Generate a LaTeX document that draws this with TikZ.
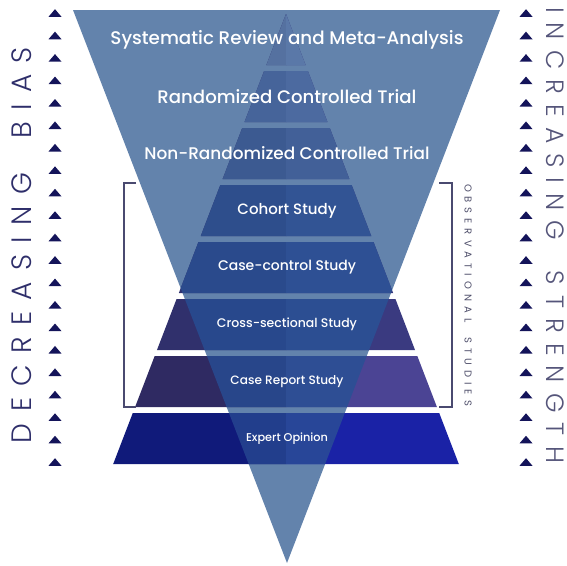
\documentclass[tikz,border=0pt]{standalone}
\usepackage{fontspec}
\usepackage{graphicx}
\newfontfamily\labfont{Poppins Medium}
\newfontfamily\thinfont{Poppins Light}
\newfontfamily\regfont{Poppins}
\definecolor{trib}{HTML}{6383AC}
\definecolor{navyt}{HTML}{14145A}
\definecolor{sidel}{HTML}{2E2E6A}
\definecolor{sider}{HTML}{55557A}
\definecolor{brk}{HTML}{4A4A70}
\definecolor{obs}{HTML}{4E4E6A}
% in-triangle colours
\definecolor{iAl}{HTML}{5571A0}\definecolor{iAr}{HTML}{5A78A8}
\definecolor{iBl}{HTML}{46649A}\definecolor{iBr}{HTML}{4C6AA0}
\definecolor{iCl}{HTML}{3C5A91}\definecolor{iCr}{HTML}{426098}
\definecolor{iDl}{HTML}{2E4E8C}\definecolor{iDr}{HTML}{325494}
\definecolor{iEl}{HTML}{2A4A8C}\definecolor{iEr}{HTML}{2E5094}
\definecolor{iFl}{HTML}{28488C}\definecolor{iFr}{HTML}{2C4E92}
\definecolor{iGl}{HTML}{28468A}\definecolor{iGr}{HTML}{2E4E94}
\definecolor{iHl}{HTML}{223E8C}\definecolor{iHr}{HTML}{284698}
% outside colours
\definecolor{oEl}{HTML}{2D306E}\definecolor{oEr}{HTML}{34377D}
\definecolor{oFl}{HTML}{30306C}\definecolor{oFr}{HTML}{3A3A80}
\definecolor{oGl}{HTML}{2F2A62}\definecolor{oGr}{HTML}{4B4494}
\definecolor{oHl}{HTML}{101A7A}\definecolor{oHr}{HTML}{1A22A6}
\newcommand\pyrlayer[9]{%
  \pgfmathsetmacro\pyrT{0.384*(#2-14)}%
  \pgfmathsetmacro\pyrB{0.384*(#3-14)}%
  \fill[#4] (286-\pyrT,#2) -- (286,#2) -- (286,#3) -- (286-\pyrB,#3) -- cycle;
  \fill[#5] (286,#2) -- (286+\pyrT,#2) -- (286+\pyrB,#3) -- (286,#3) -- cycle;
  \begin{scope}
    \clip (73,10) -- (500,10) -- (287,563) -- cycle;
    \fill[#6] (286-\pyrT,#2) -- (286,#2) -- (286,#3) -- (286-\pyrB,#3) -- cycle;
    \fill[#7] (286,#2) -- (286+\pyrT,#2) -- (286+\pyrB,#3) -- (286,#3) -- cycle;
  \end{scope}
  \node[lab] (#1) at (287,{(#2+#3)/2}) {\resizebox{#8}{!}{#9}};
}
\tikzset{
  lab/.style={text=white,font=\labfont,inner sep=0pt},
  brack/.style={draw=brk,line width=1.3pt},
  sidetri/.style={fill=navyt}
}
\begin{document}
\begin{tikzpicture}[x=1pt,y=-1pt]
\useasboundingbox (0,0) rectangle (567,565);
% inverted triangle
\fill[trib] (73,10) -- (500,10) -- (287,563) -- cycle;
% pyramid layers
\pyrlayer{l1}{14}{65}{oEl}{oEr}{iAl}{iAr}{353pt}{Systematic Review and Meta-Analysis}
\pyrlayer{l2}{71}{122}{oEl}{oEr}{iBl}{iBr}{259pt}{Randomized Controlled Trial}
\pyrlayer{l3}{128}{179}{oEl}{oEr}{iCl}{iCr}{285pt}{Non-Randomized Controlled Trial}
\pyrlayer{l4}{185}{236}{oEl}{oEr}{iDl}{iDr}{99pt}{Cohort Study}
\pyrlayer{l5}{242}{293}{oEl}{oEr}{iEl}{iEr}{138pt}{Case-control Study}
\pyrlayer{l6}{299}{350}{oFl}{oFr}{iFl}{iFr}{140pt}{Cross-sectional Study}
\pyrlayer{l7}{356}{407}{oGl}{oGr}{iGl}{iGr}{113pt}{Case Report Study}
\pyrlayer{l8}{413}{464}{oHl}{oHr}{iHl}{iHr}{82pt}{Expert Opinion}
% brackets
\draw[brack] (136,183) -- (124,183) -- (124,407) -- (136,407);
\draw[brack] (439,183) -- (452,183) -- (452,407) -- (439,407);
\node[rotate=-90,inner sep=0pt,text=obs,font=\regfont\fontsize{10}{10}\selectfont] (obs) at (468,295)
  {\hbox to 222pt{O\hfill B\hfill S\hfill E\hfill R\hfill V\hfill A\hfill T\hfill I\hfill O\hfill N\hfill A\hfill L\hfill\hfill\hfill S\hfill T\hfill U\hfill D\hfill I\hfill E\hfill S}};
% side arrows
\foreach \i in {0,...,20}{
  \pgfmathsetmacro\yy{13+\i*22.45}
  \fill[sidetri] (48.5,\yy+3.8) -- (61.5,\yy+3.8) -- (55,\yy-3.8) -- cycle;
  \fill[sidetri] (519.5,\yy+3.8) -- (532.5,\yy+3.8) -- (526,\yy-3.8) -- cycle;
}
% side texts
\node[rotate=90,inner sep=0pt,text=sidel,font=\thinfont\fontsize{28}{28}\selectfont] (lefttext) at (22,245)
  {\hbox to 396pt{D\hfill E\hfill C\hfill R\hfill E\hfill A\hfill S\hfill I\hfill N\hfill G\hfill\hfill\hfill B\hfill I\hfill A\hfill S}};
\node[rotate=-90,inner sep=0pt,text=sider,font=\thinfont\fontsize{25}{25}\selectfont] (righttext) at (555,235)
  {\hbox to 456pt{I\hfill N\hfill C\hfill R\hfill E\hfill A\hfill S\hfill I\hfill N\hfill G\hfill\hfill\hfill S\hfill T\hfill R\hfill E\hfill N\hfill G\hfill T\hfill H}};
\end{tikzpicture}
\end{document}
